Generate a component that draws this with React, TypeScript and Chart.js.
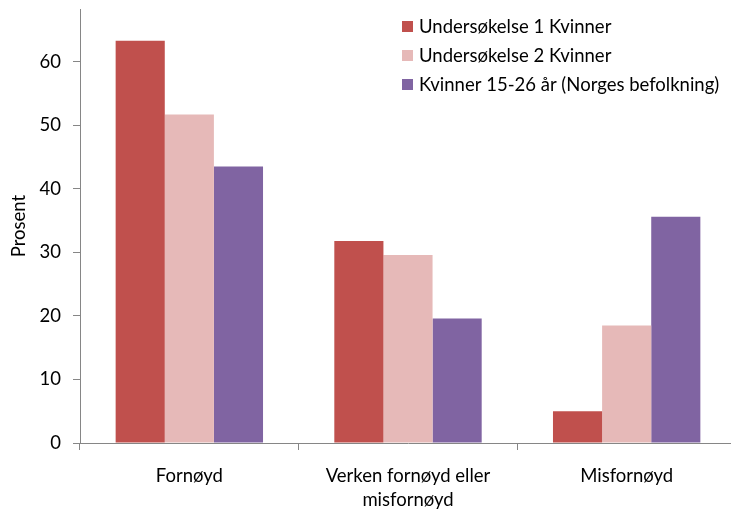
import React, { useEffect, useRef } from "react";
import { Chart, registerables } from "chart.js";
Chart.register(...registerables);

const categories = [["Fornøyd"], ["Verken fornøyd eller", "misfornøyd"], ["Misfornøyd"]];
const seriesNames = ["Undersøkelse 1 Kvinner", "Undersøkelse 2 Kvinner", "Kvinner 15-26 år (Norges befolkning)"];
const survey1 = [63.3, 31.8, 5.0];
const survey2 = [51.7, 29.6, 18.5];
const population = [43.5, 19.6, 35.6];
const seriesColors = ["#C0504D", "#E6B9B8", "#8064A2"];
const yTicks = [0, 10, 20, 30, 40, 50, 60];
const yMax = 68.3;

const FONT = "Lato";
const FS = 18.5;

export default function App() {
  const ref = useRef<HTMLCanvasElement>(null);
  useEffect(() => {
    document.body.style.overflow = "hidden";
    const legendPlugin = {
      id: "customLegend",
      afterDraw(chart: any) {
        const ctx = chart.ctx;
        ctx.save();
        ctx.font = `${FS}px ${FONT}`;
        ctx.textBaseline = "middle";
        ctx.textAlign = "left";
        seriesNames.forEach((name, i) => {
          const cy = 26.5 + i * 29;
          ctx.fillStyle = seriesColors[i];
          ctx.fillRect(402, cy - 5.5, 11, 11);
          ctx.fillStyle = "#000";
          ctx.fillText(name, 419, cy + 1);
        });
        ctx.restore();
      },
    };
    const axisColor = "#868686";
    const chart = new Chart(ref.current as HTMLCanvasElement, {
      type: "bar",
      data: {
        labels: categories as any,
        datasets: [survey1, survey2, population].map((d, i) => ({
          label: seriesNames[i],
          data: d,
          backgroundColor: seriesColors[i],
          borderWidth: 0,
          categoryPercentage: 0.674,
          barPercentage: 1,
        })),
      },
      options: {
        animation: false,
        responsive: false,
        maintainAspectRatio: false,
        layout: { padding: { top: 9, left: 0, right: 0, bottom: 0 } },
        plugins: { legend: { display: false }, tooltip: { enabled: false } },
        scales: {
          x: {
            grid: { drawOnChartArea: false, offset: true, tickLength: 7, color: axisColor },
            border: { color: axisColor },
            ticks: { font: { family: FONT, size: FS, lineHeight: 1.3 }, color: "#000", padding: 14, maxRotation: 0 },
            afterFit(s: any) { s.height = 67; s.paddingLeft = 0; s.paddingRight = 0; },
          },
          y: {
            min: 0,
            max: yMax,
            afterBuildTicks(s: any) { s.ticks = yTicks.map((v) => ({ value: v })); },
            grid: { drawOnChartArea: false, tickLength: 7, color: axisColor },
            border: { color: axisColor },
            ticks: { font: { family: FONT, size: FS }, color: "#000", padding: 12 },
            title: { display: true, text: "Prosent", font: { family: FONT, size: FS }, color: "#000", padding: { top: 8, bottom: 0 } },
            afterFit(s: any) { s.width = 80; s.paddingTop = 0; s.paddingBottom = 0; },
          },
        },
      },
      plugins: [legendPlugin],
    });
    return () => chart.destroy();
  }, []);
  return (
    <div style={{ position: "fixed", left: 0, top: 0, width: 736, height: 510, overflow: "hidden", background: "#fff" }}>
      <canvas ref={ref} width={736} height={510} style={{ display: "block" }} />
    </div>
  );
}
